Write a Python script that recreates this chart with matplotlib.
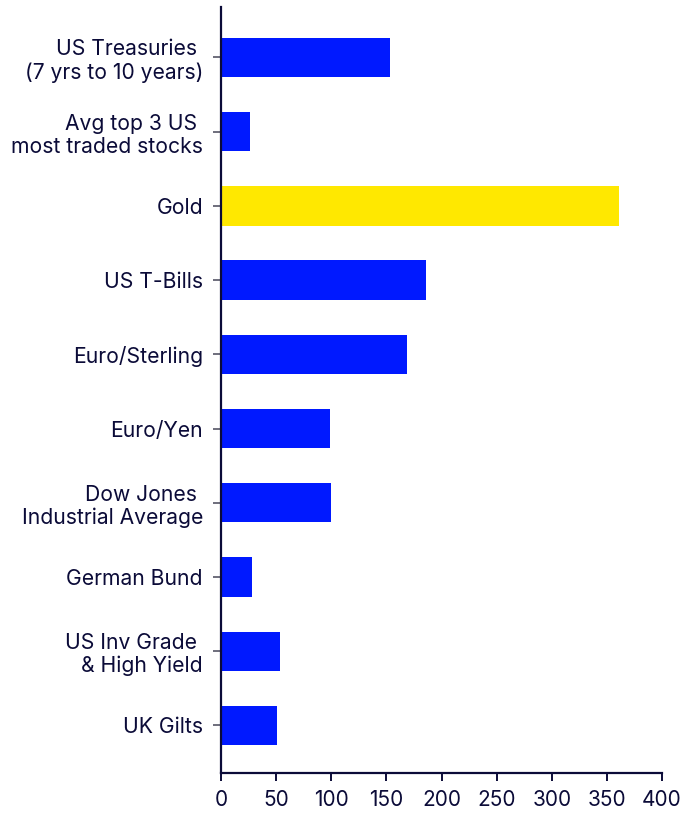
import matplotlib
matplotlib.use("Agg")
import matplotlib.pyplot as plt

plt.rcParams['font.family'] = ['Inter', 'DejaVu Sans']

categories = [
    "US Treasuries \n(7 yrs to 10 years)",
    "Avg top 3 US \nmost traded stocks",
    "Gold",
    "US T-Bills",
    "Euro/Sterling",
    "Euro/Yen",
    "Dow Jones \nIndustrial Average",
    "German Bund",
    "US Inv Grade \n& High Yield",
    "UK Gilts",
]
values = [153, 26, 361, 186, 169, 99, 100, 28, 53.5, 51]
highlight = "Gold"
x_ticks = [0, 50, 100, 150, 200, 250, 300, 350, 400]

blue = "#0019ff"
yellow = "#ffe800"
navy = "#0b0b38"

colors = [yellow if c == highlight else blue for c in categories]

fig = plt.figure(figsize=(6.84, 8.14), dpi=100)
ax = fig.add_axes([221 / 684, 41 / 814, 441 / 684, 766 / 814])

ypos = list(range(len(categories)))
ax.barh(ypos, values, height=0.53, color=colors)

ax.set_xlim(0, 400)
ax.set_ylim(9.64, -0.68)
ax.set_xticks(x_ticks)
ax.set_yticks(ypos)
ax.set_yticklabels(categories, fontsize=15.2, color=navy, linespacing=1.18)
ax.set_xticklabels([str(t) for t in x_ticks], fontsize=15, color=navy)

for side in ("top", "right"):
    ax.spines[side].set_visible(False)
for side in ("left", "bottom"):
    ax.spines[side].set_color(navy)
    ax.spines[side].set_linewidth(1.6)

ax.tick_params(axis="y", length=6, width=1.2, color="#555566", pad=7)
ax.tick_params(axis="x", length=6, width=1.4, color=navy, pad=6)

fig.savefig("out.png", dpi=100)
